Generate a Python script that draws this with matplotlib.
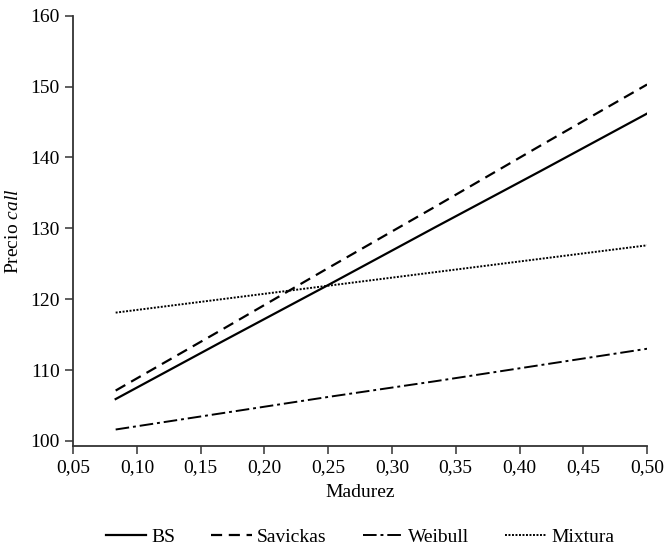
import numpy as np
import matplotlib.pyplot as plt
from matplotlib.ticker import FuncFormatter

plt.rcParams["font.family"] = ["Liberation Serif", "DejaVu Serif"]
plt.rcParams["mathtext.fontset"] = "custom"
plt.rcParams["mathtext.rm"] = "Liberation Serif"
plt.rcParams["mathtext.it"] = "Liberation Serif:italic"

# maturities (years) and call prices per model
madurez = [1 / 12, 2 / 12, 3 / 12, 4 / 12, 5 / 12, 6 / 12]
bs = [105.9, 114.0, 122.0, 130.1, 138.1, 146.2]
savickas = [107.1, 115.7, 124.4, 133.0, 141.7, 150.3]
weibull = [101.6, 103.9, 106.2, 108.4, 110.7, 113.0]
mixtura = [118.1, 120.0, 121.9, 123.8, 125.7, 127.6]

x_ticks = [0.05, 0.10, 0.15, 0.20, 0.25, 0.30, 0.35, 0.40, 0.45, 0.50]
y_ticks = [100, 110, 120, 130, 140, 150, 160]

fig = plt.figure(figsize=(6.65, 5.45), dpi=100)
ax = fig.add_axes([0.11, 0.182, 0.863, 0.789])

ax.plot(madurez, bs, color="black", linestyle="-", linewidth=1.6, label="BS")
ax.plot(madurez, savickas, color="black", linestyle=(0, (5, 3)), linewidth=1.6, label="Savickas")
ax.plot(madurez, weibull, color="black", linestyle=(0, (7, 2, 1.5, 2)), linewidth=1.4, label="Weibull")
ax.plot(madurez, mixtura, color="black", linestyle=(0, (1, 0.8)), linewidth=1.4, label="Mixtura")

ax.set_xlim(0.05, 0.50)
ax.set_ylim(99.3, 160)
ax.set_xticks(x_ticks)
ax.set_yticks(y_ticks)
ax.xaxis.set_major_formatter(FuncFormatter(lambda v, p: f"{v:.2f}".replace(".", ",")))

for s in ["top", "right"]:
    ax.spines[s].set_visible(False)
for s in ["left", "bottom"]:
    ax.spines[s].set_linewidth(1.3)
    ax.spines[s].set_color("#333333")
ax.tick_params(direction="out", length=6, width=1.1, labelsize=14, colors="#333333",
               labelcolor="black")

ax.set_xlabel("Madurez", fontsize=14, labelpad=6)
ax.set_ylabel("Precio $\\it{call}$", fontsize=14, labelpad=6)

fig.legend(loc="center", bbox_to_anchor=(0.541, 0.015), ncol=4, frameon=False,
           fontsize=14, handlelength=2.1, columnspacing=1.85, handletextpad=0.25)

fig.savefig("out.png", dpi=100)
